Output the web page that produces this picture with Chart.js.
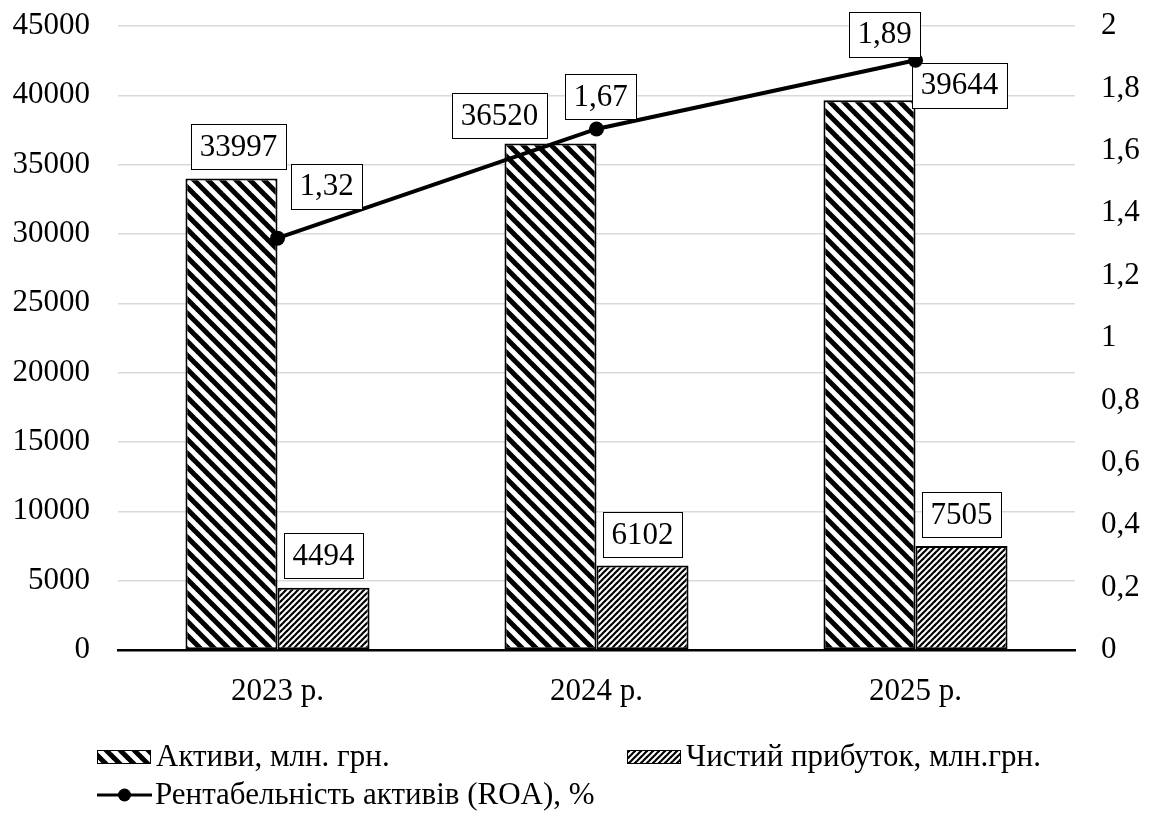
<!DOCTYPE html>
<html lang="uk">
<head>
<meta charset="utf-8">
<title>Активи, чистий прибуток та ROA</title>
<script src="https://cdn.jsdelivr.net/npm/chart.js@4.4.1/dist/chart.umd.min.js"></script>
<style>
  html, body { margin: 0; padding: 0; background: #fff; }
  #wrap { width: 1155px; height: 814px; position: relative; }
</style>
</head>
<body>
<div id="wrap"><canvas id="chart"></canvas></div>
<script>
// Data
const categories = ['2023 р.', '2024 р.', '2025 р.'];
const assets = [33997, 36520, 39644];      // Активи, млн. грн.
const netProfit = [4494, 6102, 7505];      // Чистий прибуток, млн.грн.
const roa = [1.32, 1.67, 1.89];            // ROA, %

const seriesNames = ['Активи, млн. грн.', 'Чистий прибуток, млн.грн.', 'Рентабельність активів (ROA), %'];

const FONT = "'Liberation Serif', 'Times New Roman', serif";
const FONT_SIZE = 31;

// Diagonal hatch fills
function makeStripes(period, width, dir) {
  const c = document.createElement('canvas');
  c.width = period; c.height = period;
  const g = c.getContext('2d');
  g.fillStyle = '#fff';
  g.fillRect(0, 0, period, period);
  g.strokeStyle = '#000';
  g.lineWidth = width;
  g.lineCap = 'square';
  for (let k = -1; k <= 2; k++) {
    g.beginPath();
    if (dir === 'down') {
      g.moveTo(-2, -2 + k * period);
      g.lineTo(period + 2, period + 2 + k * period);
    } else {
      g.moveTo(-2, k * period + 2);
      g.lineTo(period + 2, k * period - period - 2);
    }
    g.stroke();
  }
  return document.getElementById('chart').getContext('2d').createPattern(c, 'repeat');
}

const assetsFill = makeStripes(14, 5, 'down');
const profitFill = makeStripes(6, 2.2, 'up');

const commaNum = (v, d) => v.toFixed(d).replace('.', ',');

// Boxed value labels, drawn right after each dataset
const boxedLabels = {
  id: 'boxedLabels',
  afterDatasetDraw(chart, args) {
    const ds = chart.data.datasets[args.index];
    const offs = ds.labelOffsets;
    if (!offs) return;
    const ctx = chart.ctx;
    ctx.save();
    ctx.font = FONT_SIZE + 'px ' + FONT;
    ctx.textAlign = 'center';
    ctx.textBaseline = 'middle';
    args.meta.data.forEach((el, i) => {
      const v = ds.data[i];
      const txt = ds.type === 'line' ? commaNum(v, 2) : String(v);
      const cx = el.x + offs[i][0];
      const cy = el.y + offs[i][1];
      const w = Math.round(ctx.measureText(txt).width + 17);
      const h = 45;
      const x0 = Math.round(cx - w / 2) + 0.5;
      const y0 = Math.round(cy - h / 2) + 0.5;
      ctx.fillStyle = '#fff';
      ctx.fillRect(x0, y0, w, h);
      ctx.strokeStyle = '#000';
      ctx.lineWidth = 1;
      ctx.strokeRect(x0, y0, w, h);
      ctx.fillStyle = '#000';
      ctx.fillText(txt, cx, cy + 1);
    });
    ctx.restore();
  }
};

// Two-column legend under the axis
const columnLegend = {
  id: 'columnLegend',
  afterDraw(chart) {
    const ctx = chart.ctx;
    const sets = chart.data.datasets;
    ctx.save();
    ctx.font = FONT_SIZE + 'px ' + FONT;
    ctx.textBaseline = 'middle';
    ctx.textAlign = 'left';
    const items = [
      { ds: sets[1], x: 97, y: 757 },
      { ds: sets[2], x: 627, y: 757 },
      { ds: sets[0], x: 97, y: 795 }
    ];
    items.forEach(it => {
      const ds = it.ds;
      if (ds.type === 'line') {
        ctx.strokeStyle = '#000';
        ctx.lineWidth = 3;
        ctx.beginPath();
        ctx.moveTo(it.x, it.y);
        ctx.lineTo(it.x + 55, it.y);
        ctx.stroke();
        ctx.fillStyle = '#000';
        ctx.beginPath();
        ctx.arc(it.x + 27.5, it.y, 6.5, 0, Math.PI * 2);
        ctx.fill();
      } else {
        ctx.fillStyle = ds.backgroundColor;
        ctx.fillRect(it.x, it.y - 7, 54, 14);
        ctx.strokeStyle = '#000';
        ctx.lineWidth = 1;
        ctx.strokeRect(it.x + 0.5, it.y - 6.5, 53, 13);
      }
      ctx.fillStyle = '#000';
      ctx.fillText(ds.label, it.x + (ds.type === 'line' ? 58 : 59), it.y + 1);
    });
    ctx.restore();
  }
};

// Fixed-size value axes: no extra room reserved above/below for tick labels
function fixAxis(width) {
  return scale => {
    scale.width = width;
    scale.paddingTop = 0;
    scale.paddingBottom = 0;
  };
}

Chart.defaults.font.family = FONT;
Chart.defaults.font.size = FONT_SIZE;
Chart.defaults.color = '#000';

new Chart(document.getElementById('chart'), {
  type: 'bar',
  data: {
    labels: categories,
    datasets: [
      {
        type: 'line',
        label: seriesNames[2],
        data: roa,
        yAxisID: 'y1',
        order: 0,
        borderColor: '#000',
        backgroundColor: '#000',
        borderWidth: 4,
        pointRadius: 7.5,
        pointBackgroundColor: '#000',
        pointBorderWidth: 0,
        tension: 0,
        labelOffsets: [[49, -52], [4, -32], [-31, -26]]
      },
      {
        label: seriesNames[0],
        data: assets,
        yAxisID: 'y',
        order: 1,
        backgroundColor: assetsFill,
        borderColor: '#000',
        borderWidth: 2,
        borderSkipped: false,
        labelOffsets: [[7, -32], [-51, -28], [90, -15]]
      },
      {
        label: seriesNames[1],
        data: netProfit,
        yAxisID: 'y',
        order: 2,
        backgroundColor: profitFill,
        borderColor: '#000',
        borderWidth: 2,
        borderSkipped: false,
        labelOffsets: [[0, -32], [0, -31], [0, -31]]
      }
    ]
  },
  options: {
    responsive: true,
    maintainAspectRatio: false,
    animation: false,
    categoryPercentage: 0.577,
    barPercentage: 1,
    layout: { padding: { top: 26, bottom: 0, left: 0, right: 0 } },
    plugins: {
      legend: { display: false },
      tooltip: { enabled: false }
    },
    scales: {
      x: {
        grid: { display: false, drawTicks: false },
        border: { display: true, color: '#000', width: 2.5 },
        ticks: { padding: 23, color: '#000' },
        afterFit(scale) { scale.height = 164; }
      },
      y: {
        position: 'left',
        min: 0,
        max: 45000,
        ticks: { stepSize: 5000, padding: 28, color: '#000', callback: v => String(v) },
        grid: {
          drawTicks: false,
          lineWidth: 1.5,
          color: ctx => (ctx.tick && ctx.tick.value === 0 ? 'rgba(0,0,0,0)' : '#d9d9d9')
        },
        border: { display: false },
        afterFit: fixAxis(118)
      },
      y1: {
        position: 'right',
        min: 0,
        max: 2,
        ticks: {
          stepSize: 0.2,
          padding: 26,
          color: '#000',
          callback: v => String(Number(v.toFixed(1))).replace('.', ',')
        },
        grid: { display: false, drawTicks: false },
        border: { display: false },
        afterFit: fixAxis(80)
      }
    }
  },
  plugins: [boxedLabels, columnLegend]
});
</script>
</body>
</html>
